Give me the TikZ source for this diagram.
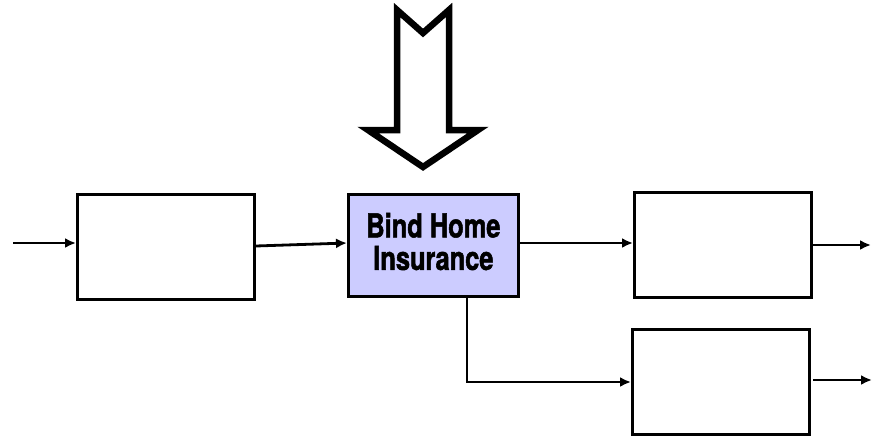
\documentclass[tikz,border=0pt]{standalone}
\usepackage{fontspec}
\setmainfont{TeX Gyre Heros}
\newfontfamily\condfont{TeX Gyre Heros}[FakeStretch=0.77,BoldFeatures={FakeBold=1.5}]
\usetikzlibrary{arrows.meta}
\definecolor{lav}{HTML}{CCCCFF}
\begin{document}
\begin{tikzpicture}[x=1pt,y=-1pt,
  box/.style={draw=black,line width=2.8pt,minimum width=177pt,minimum height=105pt,inner sep=0pt},
  conn/.style={line width=2.8pt,-{Latex[length=11pt,width=10pt]}},
  bigarrow/.style={draw=black,line width=6.5pt,line join=miter,fill=white}]
\useasboundingbox (0,0) rectangle (882,439);
\node[box,anchor=north west] (b1) at (76,193) {};
\node[box,anchor=north west,fill=lav,minimum width=170pt,minimum height=102pt,text depth=8pt,
  font=\condfont\fontsize{33}{32.5}\selectfont\bfseries,align=center] (b2) at (347,193) {Bind Home\\Insurance};
\node[box,anchor=north west] (b3) at (633,191) {};
\node[box,anchor=north west] (b4) at (631,328) {};
\coordinate (in) at (13,243);
\coordinate (out3) at (871,245);
\coordinate (s4) at (813,380);
\coordinate (out4) at (872,380);
\coordinate (bend) at (467,382);
\draw[conn] (in) -- (b1.west |- in);
\draw[conn] (b1.east |- 0,246) -- (b2.west |- 0,243);
\draw[conn] (b2.east |- 0,243) -- (b3.west |- 0,243);
\draw[conn] (b3.east |- out3) -- (out3);
\draw[conn] (s4) -- (out4);
\draw[conn] (b2.south -| bend) -- (bend) -- (b4.west |- bend);
\draw[bigarrow] (397,10) -- (423,33) -- (449,10) -- (449,130) -- (478,130) -- (423,167) -- (368,130) -- (397,130) -- cycle;
\end{tikzpicture}
\end{document}
